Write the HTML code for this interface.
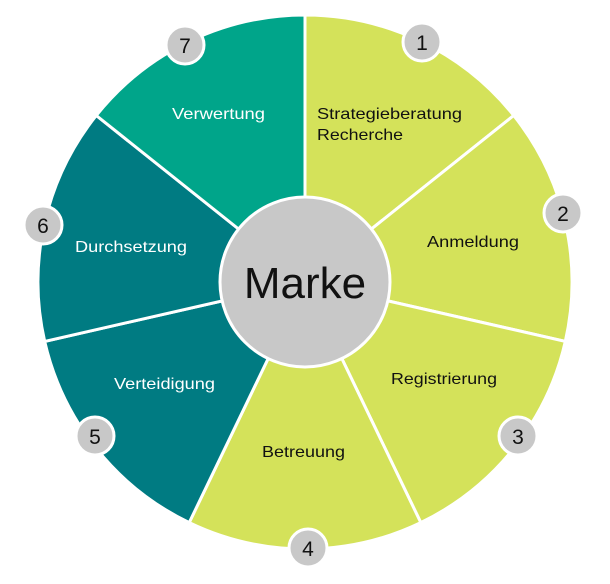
<!DOCTYPE html>
<html><head><style>
html,body{margin:0;padding:0;background:#fff;}
svg{display:block;font-family:"Liberation Sans",sans-serif;}
</style></head><body>
<svg width="610" height="584" viewBox="0 0 610 584">
<g stroke="#fff" stroke-width="3">
<path d="M305,282 L305,15 A267,267 0 0 1 513.7,115.5 Z" fill="#d4e25a"/>
<path d="M305,282 L513.7,115.5 A267,267 0 0 1 565.3,341.4 Z" fill="#d4e25a"/>
<path d="M305,282 L565.3,341.4 A267,267 0 0 1 420.8,522.6 Z" fill="#d4e25a"/>
<path d="M305,282 L420.8,522.6 A267,267 0 0 1 189.2,522.6 Z" fill="#d4e25a"/>
<path d="M305,282 L189.2,522.6 A267,267 0 0 1 44.7,341.4 Z" fill="#007b82"/>
<path d="M305,282 L44.7,341.4 A267,267 0 0 1 96.3,115.5 Z" fill="#007b82"/>
<path d="M305,282 L96.3,115.5 A267,267 0 0 1 305,15 Z" fill="#00a58a"/>
</g>
<circle cx="305" cy="282" r="85" fill="#c8c8c8" stroke="#fff" stroke-width="3"/>
<text x="305" y="298" font-size="44" text-anchor="middle" fill="#111">Marke</text>
<g font-size="16" fill="#111">
<text x="317" y="119" textLength="145" lengthAdjust="spacingAndGlyphs">Strategieberatung</text>
<text x="317" y="140" textLength="86" lengthAdjust="spacingAndGlyphs">Recherche</text>
<text x="427" y="247" textLength="92" lengthAdjust="spacingAndGlyphs">Anmeldung</text>
<text x="391" y="384" textLength="106" lengthAdjust="spacingAndGlyphs">Registrierung</text>
<text x="262" y="457" textLength="83" lengthAdjust="spacingAndGlyphs">Betreuung</text>
</g>
<g font-size="16" fill="#fff">
<text x="114" y="389" textLength="101" lengthAdjust="spacingAndGlyphs">Verteidigung</text>
<text x="75" y="252" textLength="112" lengthAdjust="spacingAndGlyphs">Durchsetzung</text>
<text x="172" y="119" textLength="93" lengthAdjust="spacingAndGlyphs">Verwertung</text>
</g>
<g fill="#c8c8c8" stroke="#fff" stroke-width="3">
<circle cx="422" cy="42" r="19"/>
<circle cx="563" cy="213" r="19"/>
<circle cx="518" cy="436" r="19"/>
<circle cx="308" cy="548" r="19"/>
<circle cx="95" cy="436" r="19"/>
<circle cx="43" cy="225" r="19"/>
<circle cx="185" cy="45" r="19"/>
</g>
<g font-size="21" fill="#111" text-anchor="middle">
<text x="422" y="50">1</text>
<text x="563" y="221">2</text>
<text x="518" y="444">3</text>
<text x="308" y="556">4</text>
<text x="95" y="444">5</text>
<text x="43" y="233">6</text>
<text x="185" y="53">7</text>
</g>
</svg>
</body></html>
